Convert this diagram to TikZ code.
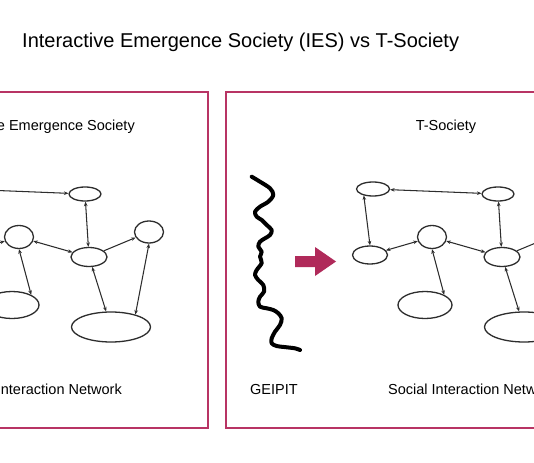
\documentclass[tikz,border=0pt]{standalone}
\usepackage{fontspec}
\setmainfont{Liberation Sans}
\usetikzlibrary{shapes.geometric,arrows.meta}
\definecolor{boxred}{RGB}{184,52,100}
\definecolor{arrred}{RGB}{176,42,90}
\definecolor{netgray}{RGB}{45,45,45}
\tikzset{
  frame/.style={draw=boxred,line width=2pt},
  nd/.style={draw=netgray,ellipse,line width=1.3pt,inner sep=0pt},
  lk/.style={draw=netgray,line width=1.05pt},
  bi/.style={lk,{Stealth[length=4.5pt,width=3.6pt]}-{Stealth[length=4.5pt,width=3.6pt]}},
  one/.style={lk,-{Stealth[length=4.5pt,width=3.6pt]}},
  lbl/.style={font=\fontsize{14.5}{17}\selectfont,inner sep=0pt},
}
\newcommand\drawnet[1]{%
  \node[nd,minimum width=33pt,minimum height=14pt] (#1a) at (373,189) {};
  \node[nd,minimum width=32pt,minimum height=14pt] (#1b) at (498,194) {};
  \node[nd,minimum width=35pt,minimum height=18pt] (#1c) at (370,255) {};
  \node[nd,minimum width=29pt,minimum height=23pt] (#1d) at (432,237) {};
  \node[nd,minimum width=36pt,minimum height=19pt] (#1e) at (502,257) {};
  \node[nd,minimum width=54pt,minimum height=27pt] (#1f) at (425,305) {};
  \node[nd,minimum width=79pt,minimum height=30pt] (#1g) at (524,327) {};
  \node[nd,minimum width=29pt,minimum height=22pt] (#1h) at (562,232) {};
  \draw[bi] (#1a) -- (#1b);
  \draw[bi] (#1a.215) -- (#1c.90);
  \draw[bi] (#1b) -- (#1e);
  \draw[bi] (#1c) -- (#1d);
  \draw[bi] (#1d) -- (#1e);
  \draw[bi] (#1d.270) -- (#1f.28);
  \draw[bi] (#1e) -- (#1g);
  \draw[one] (#1e) -- (#1h);
  \draw[bi] (#1h.270) -- (#1g.27);
}
\begin{document}
\begin{tikzpicture}[x=1pt,y=-1pt]
\useasboundingbox (0,0) rectangle (534,462);
\clip (0,0) rectangle (534,462);
\fill[white] (0,0) rectangle (534,462);
% title
\node[anchor=base west,inner sep=0pt,font=\fontsize{20}{24}\selectfont] (title) at (22,48) {Interactive Emergence Society (IES) vs T-Society};
% frames
\draw[frame] (-10,92) rectangle (208,428);
\draw[frame] (226,92) rectangle (545,428);
% left panel
\node[lbl,anchor=base east] (ltitle) at (135,130.5) {Interactive Emergence Society};
\node[lbl,anchor=base east] (lnet) at (122,394) {Social Interaction Network};
\begin{scope}[xshift=-413pt]
\drawnet{L}
\end{scope}
% right panel
\node[lbl,anchor=base] (rtitle) at (446,130.5) {T-Society};
\node[lbl,anchor=base west] (geipit) at (250,394) {GEIPIT};
\node[lbl,anchor=base west] (rnet) at (388,394) {Social Interaction Network};
\drawnet{R}
% squiggle
\draw[line width=4pt,line cap=round,line join=round] plot[smooth,tension=0.55] coordinates {
(251.7,176.7) (260,181.7) (270,188.3) (273.3,195) (268.3,201.7) (260,206.7) (255,211.7) (256.7,216.7) (261.7,220) (266.7,225) (271.7,230) (270,235) (265,238.3) (260,241.7) (258.3,246.7) (261.7,251.7) (260,256.7) (261.7,263) (256.7,270) (255,275) (258.3,280) (263.3,285) (264,291.7) (260,296.7) (258.3,301.7) (260,306.7) (266.7,308.3) (273.3,310) (278.3,313.3) (281.7,318.3) (280,325) (275,331.7) (271.7,338.3) (271.7,343.3) (276.7,346) (286.7,347.3) (295,348.3) (300,350)};
% red arrow
\fill[arrred] (295,256) -- (315,256) -- (315,247) -- (336,261.5) -- (315,276) -- (315,267) -- (295,267) -- cycle;
\end{tikzpicture}
\end{document}
